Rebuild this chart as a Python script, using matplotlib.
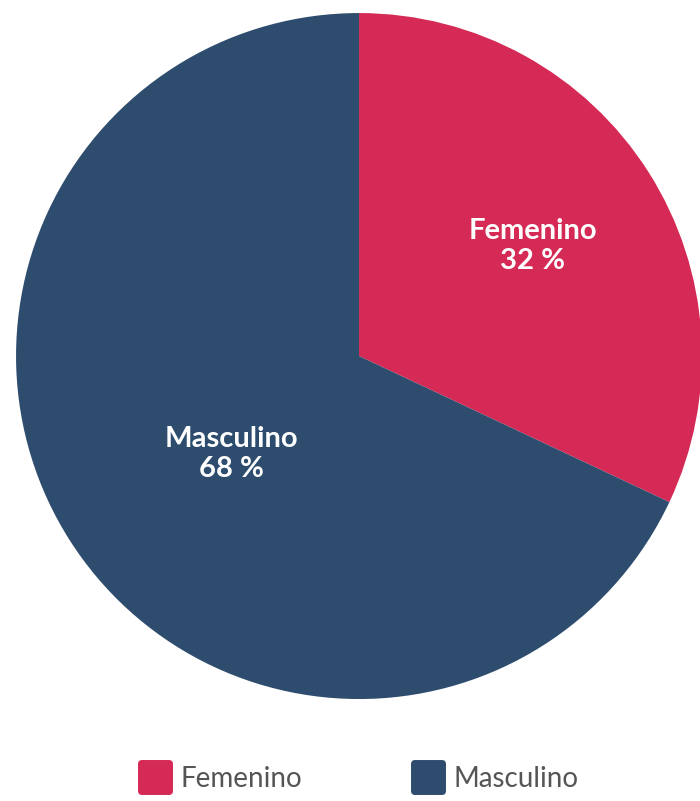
import numpy as np
import matplotlib
matplotlib.use('Agg')
import matplotlib.pyplot as plt
from matplotlib.lines import Line2D
from matplotlib.markers import MarkerStyle

# data
categories = ['Femenino', 'Masculino']
shares = [32, 68]
colors = ['#D42A55', '#2E4D6E']

plt.rcParams['font.family'] = ['Lato', 'DejaVu Sans']

fig = plt.figure(figsize=(7, 8.01), dpi=100)
ax = fig.add_axes([0.0229, 0.1273, 0.98, 0.8564])
wedges, _ = ax.pie(shares, colors=colors, startangle=90, counterclock=False,
                   radius=1, wedgeprops=dict(linewidth=0))
ax.set_xlim(-1, 1)
ax.set_ylim(-1, 1)
ax.set_aspect('equal')

# labels inside the wedges (distance from centre, angle offset)
label_pos = [(0.60, 0), (0.47, 5)]
for w, name, val, (d, off) in zip(wedges, categories, shares, label_pos):
    ang = np.deg2rad((w.theta1 + w.theta2) / 2 + off)
    ax.text(d * np.cos(ang), d * np.sin(ang), f'{name}\n{val} %',
            ha='center', va='center', color='white', fontsize=21,
            fontweight='bold', linespacing=1.2)

# legend with rounded squares
handles = [Line2D([], [], linestyle='none', marker=MarkerStyle('s', joinstyle='round'),
                  markersize=20, markerfacecolor=c, markeredgecolor=c,
                  markeredgewidth=5) for c in colors]
fig.legend(handles, categories, loc='center', bbox_to_anchor=(0.511, 0.0275),
           ncol=2, frameon=False, fontsize=20, labelcolor='#555555',
           handlelength=1.25, handletextpad=0.3, columnspacing=3.9)

plt.savefig('out.png', dpi=100)
